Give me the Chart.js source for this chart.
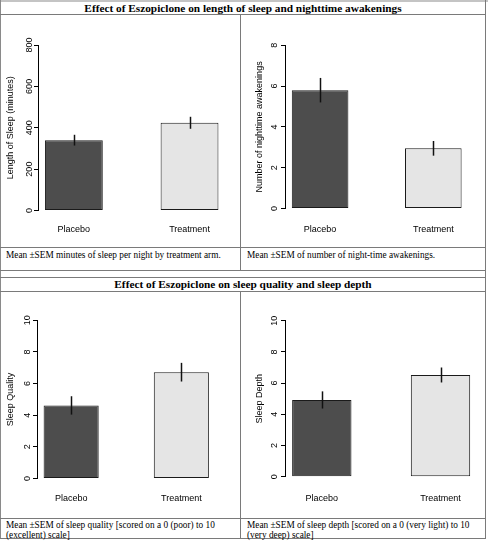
<!DOCTYPE html>
<html><head><meta charset="utf-8">
<script src="https://cdn.jsdelivr.net/npm/chart.js@4"></script>
<style>
html,body{margin:0;padding:0;background:#fff;}
body{width:488px;height:541px;overflow:hidden;position:relative;font-family:'Liberation Serif','Times New Roman',serif;}
.ln{position:absolute;background:#7a7a7a;}
.title{position:absolute;left:0;width:486px;text-align:center;font-weight:bold;font-size:11.3px;line-height:12px;color:#000;white-space:nowrap;}
.cap{position:absolute;font-size:9.3px;line-height:10px;color:#000;white-space:nowrap;}
canvas{position:absolute;}
</style></head>
<body>
<div class="ln" style="left:0;top:0;width:488px;height:2px;background:#c4c4c4"></div>
<div class="ln" style="left:0;top:0;width:1px;height:539px;background:#8a8a8a"></div>
<div class="ln" style="left:485px;top:0;width:1px;height:539px"></div>
<div class="ln" style="left:0;top:14px;width:486px;height:1px"></div>
<div class="ln" style="left:0;top:247px;width:486px;height:1px"></div>
<div class="ln" style="left:0;top:270px;width:486px;height:1px"></div>
<div class="ln" style="left:0;top:277px;width:486px;height:1px"></div>
<div class="ln" style="left:0;top:291px;width:486px;height:1px"></div>
<div class="ln" style="left:0;top:518px;width:486px;height:1px"></div>
<div class="ln" style="left:0;top:538px;width:486px;height:1px"></div>
<div class="ln" style="left:240px;top:14px;width:1px;height:256px"></div>
<div class="ln" style="left:240px;top:291px;width:1px;height:247px"></div>

<div class="title" style="top:2px">Effect of Eszopiclone on length of sleep and nighttime awakenings</div>
<div class="title" style="top:277.5px">Effect of Eszopiclone on sleep quality and sleep depth</div>

<div class="cap" style="left:6px;top:250px">Mean ±SEM minutes of sleep per night by treatment arm.</div>
<div class="cap" style="left:247px;top:250px">Mean ±SEM of number of night-time awakenings.</div>
<div class="cap" style="left:6px;top:520px">Mean ±SEM of sleep quality [scored on a 0 (poor) to 10<br>(excellent) scale]</div>
<div class="cap" style="left:247px;top:520px">Mean ±SEM of sleep depth [scored on a 0 (very light) to 10<br>(very deep) scale]</div>

<canvas id="c1" width="240" height="232" style="left:0;top:15px"></canvas>
<canvas id="c2" width="244" height="232" style="left:241px;top:15px"></canvas>
<canvas id="c3" width="240" height="227" style="left:0;top:291px"></canvas>
<canvas id="c4" width="244" height="227" style="left:241px;top:291px"></canvas>

<script>
const categories = ['Placebo', 'Treatment'];
const sleepLengthMean = [340, 424];
const sleepLengthSem = [26, 29];
const awakeningsMean = [5.8, 2.95];
const awakeningsSem = [0.6, 0.36];
const qualityMean = [4.62, 6.72];
const qualitySem = [0.58, 0.59];
const depthMean = [4.92, 6.52];
const depthSem = [0.55, 0.48];
const lengthTicks = [0, 200, 400, 600, 800];
const awakeningsTicks = [0, 2, 4, 6, 8];
const scoreTicks = [0, 2, 4, 6, 8, 10];

Chart.defaults.font.family = "'Liberation Sans', Arial, Helvetica, sans-serif";
Chart.defaults.font.size = 9;
Chart.defaults.color = '#000';

const errorBars = {
  id: 'errorBars',
  afterDatasetsDraw(chart) {
    const ctx = chart.ctx, y = chart.scales.y;
    chart.data.datasets.forEach((ds, di) => {
      const meta = chart.getDatasetMeta(di);
      meta.data.forEach((bar, i) => {
        const v = ds.data[i].y, e = ds.sem[i];
        const x = Math.round(bar.x) + 0.5;
        ctx.save();
        ctx.strokeStyle = '#111';
        ctx.lineWidth = 1.5;
        ctx.beginPath();
        ctx.moveTo(x, y.getPixelForValue(v + e));
        ctx.lineTo(x, y.getPixelForValue(v - e));
        ctx.stroke();
        ctx.restore();
      });
    });
  }
};

function makeChart(id, mean, sem, ticks, title, L) {
  return new Chart(document.getElementById(id), {
    type: 'bar',
    data: {
      datasets: [{
        data: mean.map((v, i) => ({ x: i, y: v })),
        sem: sem,
        backgroundColor: ['#4d4d4d', '#e5e5e5'],
        borderColor: '#1a1a1a',
        borderWidth: 1,
        borderSkipped: false,
        barPercentage: 1,
        categoryPercentage: 0.5
      }]
    },
    options: {
      responsive: false,
      animation: false,
      devicePixelRatio: 1,
      layout: { padding: { left: 0, top: L.top, right: L.right, bottom: 0 } },
      plugins: { legend: { display: false }, tooltip: { enabled: false } },
      scales: {
        x: {
          type: 'linear', offset: false, min: -0.31, max: 1.31,
          grid: { display: false }, border: { display: false },
          afterBuildTicks: s => { s.ticks = categories.map((c, i) => ({ value: i })); },
          ticks: { callback: v => categories[v], padding: L.xPad, autoSkip: false, maxRotation: 0, minRotation: 0 },
          afterFit: s => { s.height = L.xH; }
        },
        y: {
          min: 0, max: ticks[ticks.length - 1],
          afterBuildTicks: s => { s.ticks = ticks.map(v => ({ value: v })); },
          grid: { drawOnChartArea: false, drawTicks: true, tickLength: 4, color: '#000', lineWidth: 1 },
          border: { display: true, color: '#000', width: 1 },
          ticks: { minRotation: 90, maxRotation: 90, crossAlign: 'center', padding: L.yPad, autoSkip: false },
          title: { display: true, text: title, padding: { top: L.tPad, bottom: 0 } },
          afterFit: s => { s.width = L.yW; }
        }
      }
    },
    plugins: [errorBars]
  });
}

makeChart('c1', sleepLengthMean, sleepLengthSem, lengthTicks, 'Length of Sleep (minutes)',
  { top: 30, right: 14.6, xH: 36.5, yW: 38, xPad: 5.8, yPad: -2.7, tPad: 5.6 });
makeChart('c2', awakeningsMean, awakeningsSem, awakeningsTicks, 'Number of nighttime awakenings',
  { top: 30.3, right: 16.6, xH: 38.5, yW: 44, xPad: 7.8, yPad: 3.5, tPad: 13.6 });
makeChart('c3', qualityMean, qualitySem, scoreTicks, 'Sleep Quality',
  { top: 29.3, right: 24.5, xH: 39.5, yW: 37, xPad: 6.8, yPad: 0, tPad: 5.6 });
makeChart('c4', depthMean, depthSem, scoreTicks, 'Sleep Depth',
  { top: 29.7, right: 7.7, xH: 41.3, yW: 44, xPad: 8.6, yPad: 1, tPad: 13.6 });
</script>
</body></html>
